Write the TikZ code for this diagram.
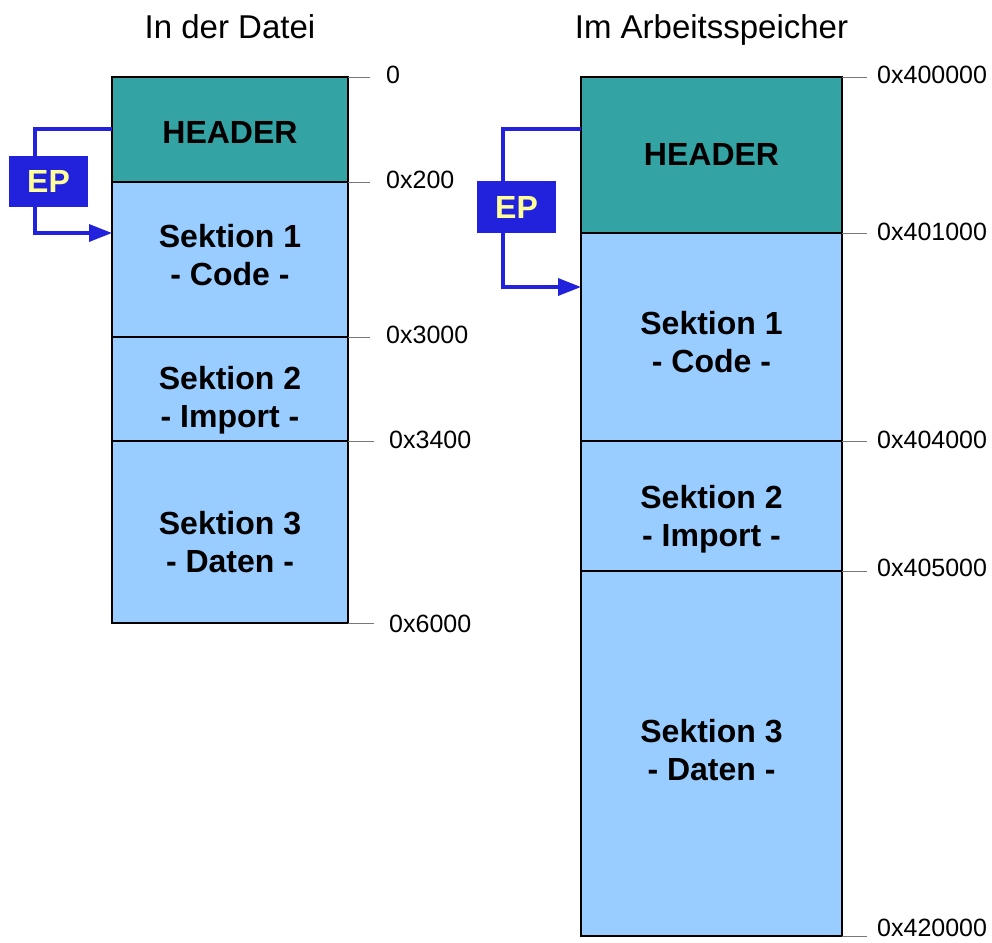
\documentclass[tikz,border=0pt]{standalone}
\usepackage{fontspec}
\setmainfont{Liberation Sans}
\usetikzlibrary{arrows.meta}

\definecolor{hdrteal}{RGB}{51,163,163}
\definecolor{seclight}{RGB}{153,204,255}
\definecolor{epblue}{RGB}{34,34,221}
\definecolor{epyellow}{RGB}{255,255,153}
\definecolor{tickgray}{RGB}{120,120,120}

\tikzset{
  blk/.style={draw=black, line width=2.6pt, rectangle, inner sep=0pt, outer sep=0pt, anchor=north west},
  hdrbox/.style={blk, fill=hdrteal},
  secbox/.style={blk, fill=seclight},
  sectext/.style={align=center, inner sep=0pt, font=\fontsize{32}{38}\selectfont\bfseries},
  addr/.style={anchor=west, inner sep=0pt, font=\fontsize{25}{30}\selectfont},
  coltitle/.style={anchor=base, inner sep=0pt, font=\fontsize{33}{40}\selectfont},
  tickline/.style={draw=tickgray, line width=1pt},
  epbox/.style={fill=epblue, inner sep=0pt, text=epyellow, font=\fontsize{32}{38}\selectfont\bfseries},
  eparrow/.style={draw=epblue, line width=3.4pt,
    -{Triangle[length=23pt,width=17pt]}},
}

\begin{document}
\begin{tikzpicture}[x=1pt, y=-1pt]
  \useasboundingbox (0,0) rectangle (992,942);

  % ---------- file layout ----------
  \node[coltitle] (tfile) at (230,39) {In der Datei};

  \node[hdrbox, minimum width=236pt, minimum height=105pt] (fhdr) at (112,77) {};
  \node[secbox, minimum width=236pt, minimum height=155pt] (fs1) at (112,182) {};
  \node[secbox, minimum width=236pt, minimum height=104pt] (fs2) at (112,337) {};
  \node[secbox, minimum width=236pt, minimum height=182pt] (fs3) at (112,441) {};

  \node[sectext] (fhdrt) at (230,132) {HEADER};
  \node[sectext] (fs1t) at (230,255.5) {Sektion 1\\- Code -};
  \node[sectext] (fs2t) at (230,400.5) {Sektion 2\\- Import -};
  \node[sectext] (fs3t) at (230,542) {Sektion 3\\- Daten -};

  % address marks of the file
  \coordinate (fa0) at (370,77);
  \coordinate (fa1) at (370,182);
  \coordinate (fa2) at (370,337);
  \coordinate (fa3) at (374,441);
  \coordinate (fa4) at (374,623);
  \draw[tickline] (fhdr.north east) -- (fa0);
  \draw[tickline] (fs1.north east) -- (fa1);
  \draw[tickline] (fs2.north east) -- (fa2);
  \draw[tickline] (fs3.north east) -- (fa3);
  \draw[tickline] (fs3.south east) -- (fa4);
  \node[addr] (fl0) at (386,75) {0};
  \node[addr] (fl1) at (386,180) {0x200};
  \node[addr] (fl2) at (386,335) {0x3000};
  \node[addr] (fl3) at (389,440) {0x3400};
  \node[addr] (fl4) at (389,624) {0x6000};

  % entry point of the file
  \coordinate (fepsrc) at (112,129);
  \coordinate (fepdst) at (112,233);
  \draw[eparrow] (fepsrc) -- (35,129) |- (fepdst);
  \node[epbox, minimum width=79pt, minimum height=51pt] (fep) at (48.5,181.5) {EP};

  % ---------- memory layout ----------
  \node[coltitle] (tmem) at (711.5,39) {Im Arbeitsspeicher};

  \node[hdrbox, minimum width=261pt, minimum height=156pt] (mhdr) at (581,77) {};
  \node[secbox, minimum width=261pt, minimum height=208pt] (ms1) at (581,233) {};
  \node[secbox, minimum width=261pt, minimum height=130pt] (ms2) at (581,441) {};
  \node[secbox, minimum width=261pt, minimum height=365pt] (ms3) at (581,571) {};

  \node[sectext] (mhdrt) at (711.5,154) {HEADER};
  \node[sectext] (ms1t) at (711.5,342) {Sektion 1\\- Code -};
  \node[sectext] (ms2t) at (711.5,519) {Sektion 2\\- Import -};
  \node[sectext] (ms3t) at (711.5,750) {Sektion 3\\- Daten -};

  % address marks in memory
  \coordinate (ma0) at (867,77);
  \coordinate (ma1) at (867,233);
  \coordinate (ma2) at (867,441);
  \coordinate (ma3) at (867,571);
  \coordinate (ma4) at (867,936);
  \draw[tickline] (mhdr.north east) -- (ma0);
  \draw[tickline] (ms1.north east) -- (ma1);
  \draw[tickline] (ms2.north east) -- (ma2);
  \draw[tickline] (ms3.north east) -- (ma3);
  \draw[tickline] (ms3.south east) -- (ma4);
  \node[addr] (ml0) at (877,75) {0x400000};
  \node[addr] (ml1) at (877,232) {0x401000};
  \node[addr] (ml2) at (877,440) {0x404000};
  \node[addr] (ml3) at (877,568) {0x405000};
  \node[addr] (ml4) at (877,928) {0x420000};

  % entry point in memory
  \coordinate (mepsrc) at (581,129);
  \coordinate (mepdst) at (581,287);
  \draw[eparrow] (mepsrc) -- (503,129) |- (mepdst);
  \node[epbox, minimum width=79pt, minimum height=52pt] (mep) at (516.5,207) {EP};
\end{tikzpicture}
\end{document}
